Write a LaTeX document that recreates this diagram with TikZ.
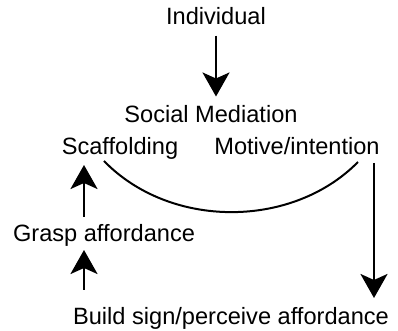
\documentclass[tikz,border=0pt]{standalone}
\usepackage{fontspec}
\setmainfont{Liberation Sans}
\usetikzlibrary{arrows.meta}
\begin{document}
\begin{tikzpicture}[x=0.5pt,y=-0.5pt,
  lbl/.style={anchor=base,inner sep=0pt,font=\fontsize{11.8}{14}\selectfont},
  arr/.style={line width=1.3pt,-{Stealth[length=12pt,width=13.5pt,inset=3pt]}},
  arcline/.style={line width=1pt}]
\useasboundingbox (0,0) rectangle (398,331);
\node[lbl] (ind) at (216,25) {Individual};
\node[lbl] (soc) at (211,123) {Social Mediation};
\node[lbl] (scaf) at (120,155) {Scaffolding};
\node[lbl] (mot) at (297,155) {Motive/intention};
\node[lbl] (grasp) at (104,242) {Grasp affordance};
\node[lbl] (build) at (231,325) {Build sign/perceive affordance};
\coordinate (arcL) at (104,161);
\coordinate (arcR) at (358,162);
\coordinate (scafIn) at (84,165);
\coordinate (graspOut) at (84,217);
\coordinate (graspIn) at (84,250);
\coordinate (buildOut) at (84,290);
\coordinate (motOut) at (374,163);
\coordinate (buildIn) at (374,298);
\draw[arr] ([yshift=-5pt]ind.south) -- ([yshift=4.5pt]ind.south |- soc.north);
\draw[arcline] (arcL) .. controls (170,229) and (292,229) .. (arcR);
\draw[arr] (graspOut) -- (scafIn);
\draw[arr] (buildOut) -- (graspIn);
\draw[arr] (motOut) -- (buildIn);
\end{tikzpicture}
\end{document}
